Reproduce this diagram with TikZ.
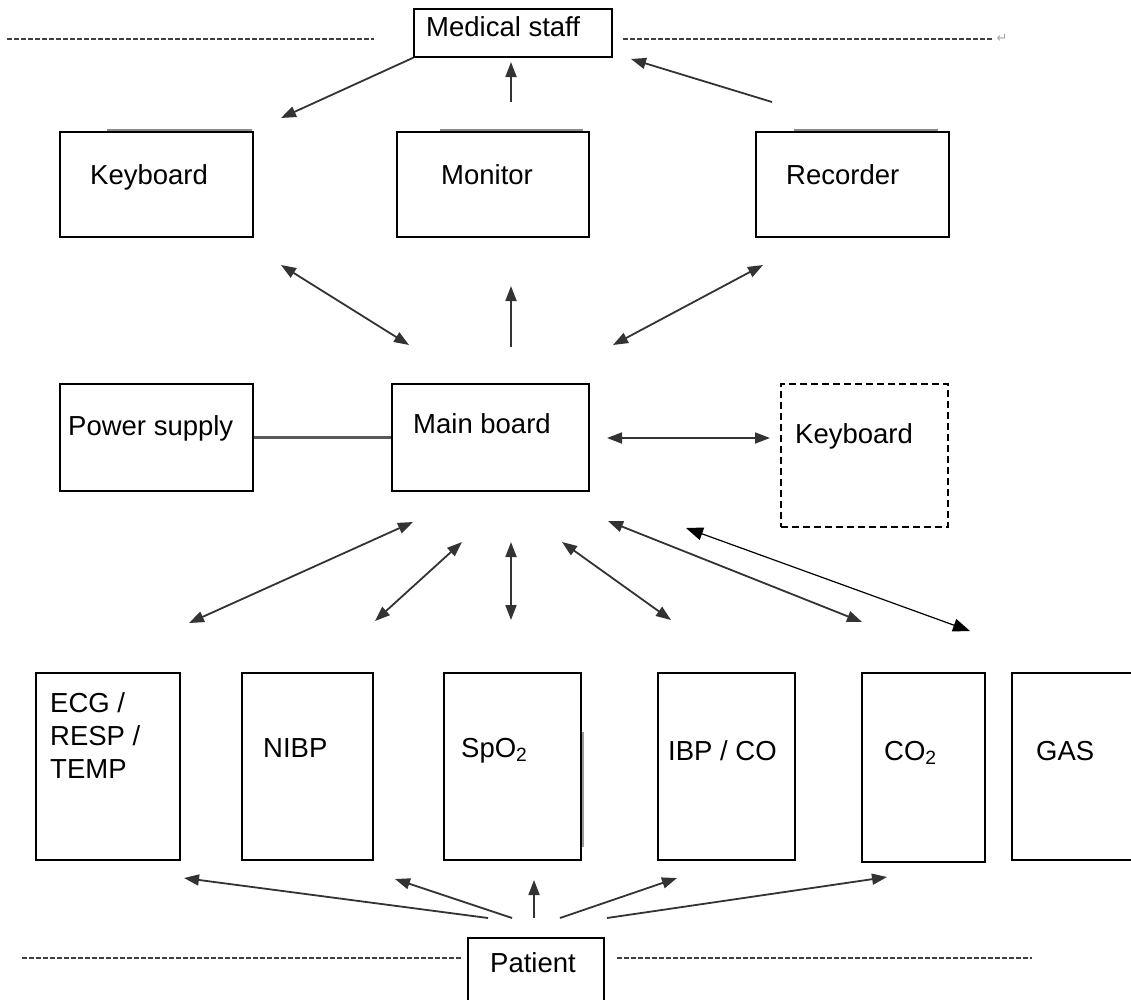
\documentclass[tikz,border=0pt]{standalone}
\usepackage{fontspec}
\setmainfont{Liberation Sans}
\newfontfamily\symfont{DejaVu Sans}
\usetikzlibrary{arrows.meta,calc}

\begin{document}
\begin{tikzpicture}[x=1pt,y=-1pt,
  box/.style={draw=black, line width=1.4pt, inner sep=0pt, fill=white},
  dashbox/.style={box, dash pattern=on 7pt off 4pt},
  lbl/.style={anchor=base west, inner sep=0pt, font=\fontsize{27.5}{33}\selectfont},
  link/.style={draw=black!80, line width=1.8pt, -{Triangle[length=15pt,width=11pt]}},
  dlink/.style={draw=black!80, line width=1.8pt, {Triangle[length=15pt,width=11pt]}-{Triangle[length=15pt,width=11pt]}},
  thinlink/.style={draw=black, line width=1.2pt, {Triangle[length=17pt,width=13pt]}-{Triangle[length=17pt,width=13pt]}},
  border/.style={draw=black!75, line width=1.4pt, dash pattern=on 5pt off 2pt},
  edgeshade/.style={draw=black!45, line width=2pt}
]
\useasboundingbox (0,0) rectangle (1131,999);

% ---------- boxes ----------
\node[box, minimum width=198pt, minimum height=48pt]  (ms)   at (513,33)     {};
\node[box, minimum width=193pt, minimum height=105pt] (kb)   at (156.5,184.5) {};
\node[box, minimum width=192pt, minimum height=105pt] (mon)  at (493,184.5)   {};
\node[box, minimum width=193pt, minimum height=105pt] (rec)  at (852.5,184.5) {};
\node[box, minimum width=193pt, minimum height=107pt] (ps)   at (156.5,437.5) {};
\node[box, minimum width=197pt, minimum height=107pt] (mb)   at (490.5,437.5) {};
\node[dashbox, minimum width=167pt, minimum height=143pt] (kbx) at (864.5,455.5) {};
\node[box, minimum width=144pt, minimum height=187pt] (ecg)  at (108,766.5)   {};
\node[box, minimum width=131pt, minimum height=187pt] (nibp) at (307.5,766.5) {};
\node[box, minimum width=137pt, minimum height=187pt] (spo)  at (512.5,766.5) {};
\node[box, minimum width=137pt, minimum height=187pt] (ibp)  at (726.5,766.5) {};
\node[box, minimum width=123pt, minimum height=189pt] (co)   at (923.5,767.5) {};
\node[box, minimum width=128pt, minimum height=187pt] (gas)  at (1076,766.5)  {};
\node[box, minimum width=136pt, minimum height=72pt]  (pat)  at (536,974)     {};

% thicker strokes along some box edges
\draw[edgeshade] (107,130) -- (252,130);
\draw[edgeshade] (440,130) -- (583,130);
\draw[edgeshade] (794,130) -- (938,130);
\draw[draw=black!40, line width=1.5pt] (583,732) -- (583,847);

% ---------- labels ----------
\node[lbl] (tms)   at (426,36)  {Medical staff};
\node[lbl] (tkb)   at (90,184)  {Keyboard};
\node[lbl] (tmon)  at (441,184) {Monitor};
\node[lbl] (trec)  at (786,184) {Recorder};
\node[lbl] (tps)   at (68,435)  {Power supply};
\node[lbl] (tmb)   at (413,433) {Main board};
\node[lbl] (tkbx)  at (795,443) {Keyboard};
\node[lbl, anchor=north west, align=left] (tecg) at (50,692.5) {ECG /\\RESP /\\TEMP};
\node[lbl] (tnibp) at (263,757) {NIBP};
\node[lbl] (tspo)  at (461,757) {SpO\textsubscript{2}};
\node[lbl] (tibp)  at (668,760) {IBP / CO};
\node[lbl] (tco)   at (884,760) {CO\textsubscript{2}};
\node[lbl] (tgas)  at (1036,760) {GAS};
\node[lbl] (tpat)  at (490,972) {Patient};

% ---------- separator lines ----------
\coordinate (tl1) at (7,39);    \coordinate (tl2) at (374,39);
\coordinate (tr1) at (623,39);  \coordinate (tr2) at (993,39);
\coordinate (bl1) at (22,958);  \coordinate (bl2) at (462,958);
\coordinate (br1) at (617,958); \coordinate (br2) at (1032,958);
\draw[border] (tl1) -- (tl2);
\draw[border] (tr1) -- (tr2);
\draw[border] (bl1) -- (bl2);
\draw[border] (br1) -- (br2);
\node[inner sep=0pt, text=black!35, font=\symfont\fontsize{13}{13}\selectfont] (pmark) at (1002,38) {↵};

% ---------- connector end points ----------
\coordinate (a1) at (281,118);
\coordinate (a2s) at (511,102); \coordinate (a2e) at (511,62);
\coordinate (a3s) at (772,102); \coordinate (a3e) at (631,59);
\coordinate (b1s) at (281,265); \coordinate (b1e) at (409,345);
\coordinate (b2s) at (511,347); \coordinate (b2e) at (511,286);
\coordinate (b3s) at (763,265); \coordinate (b3e) at (613,345);
\coordinate (cs) at (607,438);  \coordinate (ce) at (770,438);
\coordinate (d1s) at (413,522); \coordinate (d1e) at (189,623);
\coordinate (d2s) at (462,542); \coordinate (d2e) at (375,621);
\coordinate (d3s) at (511,542); \coordinate (d3e) at (511,620);
\coordinate (d4s) at (562,542); \coordinate (d4e) at (671,620);
\coordinate (d5s) at (608,521); \coordinate (d5e) at (862,622);
\coordinate (d6s) at (686,528); \coordinate (d6e) at (970,631);
\coordinate (e1s) at (488,918); \coordinate (e1e) at (184,878);
\coordinate (e2s) at (512,918); \coordinate (e2e) at (395,879);
\coordinate (e3s) at (534,918); \coordinate (e3e) at (534,880);
\coordinate (e4s) at (560,918); \coordinate (e4e) at (677,878);
\coordinate (e5s) at (607,918); \coordinate (e5e) at (887,877);

% ---------- connectors ----------
% operator interaction
\draw[link] (ms.south west) -- (a1);
\draw[link] (a2s) -- (a2e);
\draw[link] (a3s) -- (a3e);
% peripherals and main board
\draw[dlink] (b1s) -- (b1e);
\draw[link]  (b2s) -- (b2e);
\draw[dlink] (b3s) -- (b3e);
\draw[draw=black!65, line width=2.2pt] (ps.east) -- (mb.west);
\draw[dlink] (cs) -- (ce);
% parameter modules and main board
\draw[dlink] (d1s) -- (d1e);
\draw[dlink] (d2s) -- (d2e);
\draw[dlink] (d3s) -- (d3e);
\draw[dlink] (d4s) -- (d4e);
\draw[dlink] (d5s) -- (d5e);
\draw[thinlink] (d6s) -- (d6e);
% patient signals
\draw[link] (e1s) -- (e1e);
\draw[link] (e2s) -- (e2e);
\draw[link] (e3s) -- (e3e);
\draw[link] (e4s) -- (e4e);
\draw[link] (e5s) -- (e5e);
\end{tikzpicture}
\end{document}
